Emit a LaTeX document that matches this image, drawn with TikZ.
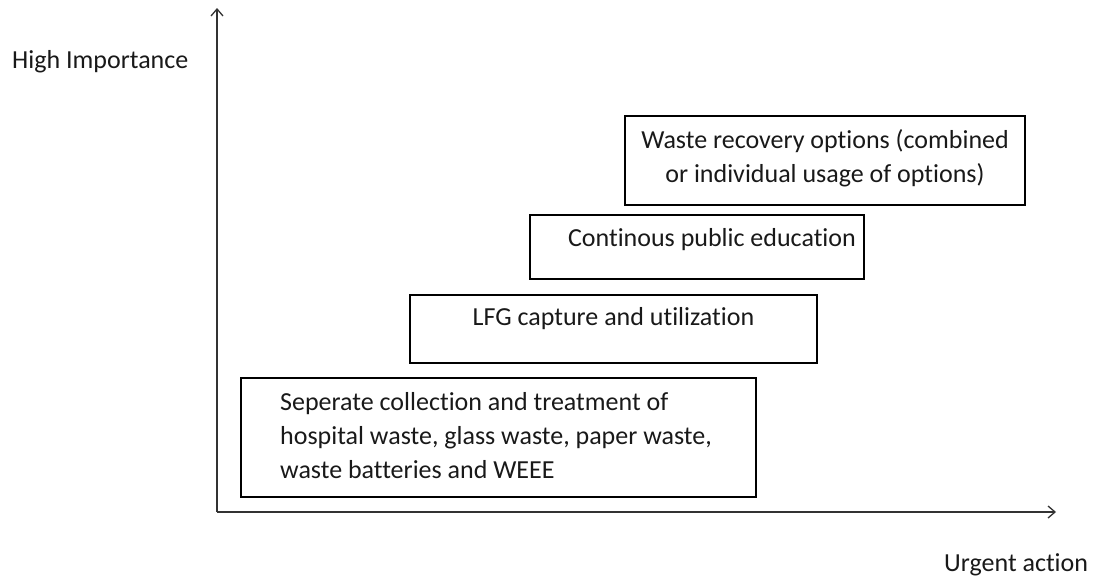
\documentclass[tikz,border=0pt]{standalone}
\usepackage{fontspec}
\setmainfont{Carlito}[Ligatures=NoCommon]
\usetikzlibrary{arrows.meta}
\begin{document}
\begin{tikzpicture}[x=1pt,y=-1pt,
  box/.style={draw=black,line width=2.6pt,inner sep=0pt},
  axis/.style={draw=black!80,line width=1.3pt,-{Straight Barb[length=7pt,width=12pt,line width=1.3pt]}},
  lbl/.style={font=\fontsize{26}{34}\selectfont,inner sep=0pt,text=black!90,anchor=base}]
\useasboundingbox (0,0) rectangle (1098,576);
\coordinate (O) at (217,512);
\coordinate (Ytop) at (217,8);
\coordinate (Xend) at (1056,512);
\draw[axis] (O) -- (Ytop);
\draw[axis] (O) -- (Xend);
\node[lbl,anchor=base west] (hi) at (12,68) {High Importance};
\node[lbl,anchor=base west] (ua) at (944,571) {Urgent action};
% boxes
\node[box,minimum width=515pt,minimum height=119pt] (b1) at (498.5,437.5) {};
\node[box,minimum width=407pt,minimum height=68pt] (b2) at (613.5,329) {};
\node[box,minimum width=334pt,minimum height=64pt] (b3) at (697,247) {};
\node[box,minimum width=400pt,minimum height=89pt] (b4) at (825,160.5) {};
% texts (base anchor = baseline of last line)
\node[lbl,align=left,anchor=base west] (t1) at (280,478) {Seperate collection and treatment of\\hospital waste, glass waste, paper waste,\\waste batteries and WEEE};
\node[lbl] (t2) at (613.5,325) {LFG capture and utilization};
\node[lbl] (t3) at (712,246) {Continous public education};
\node[lbl,align=center] (t4) at (825,182) {Waste recovery options (combined\\or individual usage of options)};
\end{tikzpicture}
\end{document}
